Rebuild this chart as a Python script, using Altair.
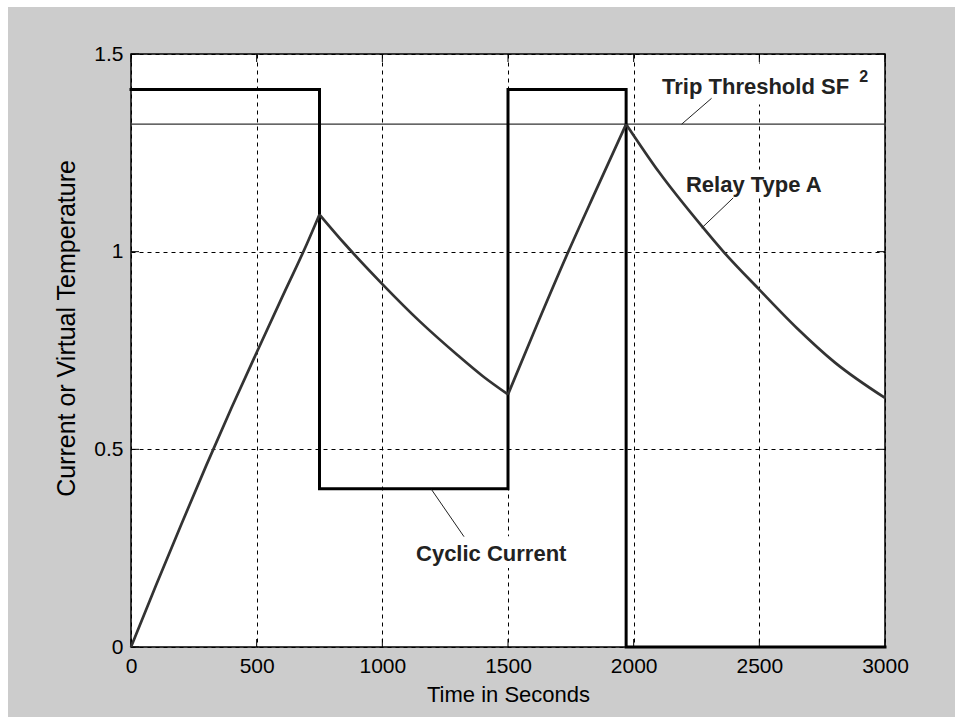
import altair as alt
import pandas as pd

# ---- data ----
x_ticks = [0, 500, 1000, 1500, 2000, 2500, 3000]
y_ticks = [0, 0.5, 1, 1.5]

cyc_t = [0, 750, 750, 1500, 1500, 1970, 1970, 3000]
cyc_v = [1.41, 1.41, 0.40, 0.40, 1.41, 1.41, 0.0, 0.0]

# relay virtual temperature, one list per heating / cooling phase
heat1_t = [0, 100, 200, 300, 400, 500, 600, 700, 750]
heat1_v = [0, 0.157, 0.31, 0.46, 0.605, 0.745, 0.883, 1.02, 1.094]
cool1_t = [750, 850, 1000, 1150, 1300, 1400, 1500]
cool1_v = [1.094, 1.02, 0.918, 0.823, 0.738, 0.685, 0.639]
heat2_t = [1500, 1600, 1740, 1850, 1970]
heat2_v = [0.639, 0.792, 1.0, 1.155, 1.3225]
cool2_t = [1970, 2100, 2277, 2357, 2500, 2649, 2800, 3000]
cool2_v = [1.3225, 1.202, 1.06, 1.0, 0.904, 0.807, 0.72, 0.630]

threshold = [1.3225]

# annotations: label, text anchor (t, v)
ann_text = ["Trip Threshold SF", "Relay Type A", "Cyclic Current"]
ann_t = [2113, 2208, 1134]
ann_v = [1.398, 1.151, 0.217]
sup_t, sup_v = [2898], [1.430]
# white boxes behind annotation text
box_t = [2100, 2184, 1110]
box_t2 = [2960, 2805, 1767]
box_v = [1.372, 1.137, 0.20]
box_v2 = [1.476, 1.208, 0.28]
# leader lines
lead_t = [2310, 2396, 1196]
lead_v = [1.388, 1.136, 0.398]
lead_t2 = [2191, 2271, 1325]
lead_v2 = [1.3225, 1.060, 0.279]

FONT = "Liberation Sans"
W, H = 754, 593
PL, PT = 131, 54
TICK = 8

cyc = pd.DataFrame({"t": cyc_t, "v": cyc_v, "i": range(len(cyc_t))})
parts = []
for k, (tt, vv) in enumerate([(heat1_t, heat1_v), (cool1_t, cool1_v),
                              (heat2_t, heat2_v), (cool2_t, cool2_v)]):
    parts.append(pd.DataFrame({"t": tt, "v": vv, "seg": k}))
rel = pd.concat(parts, ignore_index=True)
thr = pd.DataFrame({"v": threshold})
ann = pd.DataFrame({"label": ann_text, "t": ann_t, "v": ann_v})
box = pd.DataFrame({"t": box_t, "t2": box_t2, "v": box_v, "v2": box_v2})
lead = pd.DataFrame({"t": lead_t, "v": lead_v, "t2": lead_t2, "v2": lead_v2})
sup = pd.DataFrame({"label": ["2"], "t": sup_t, "v": sup_v})
xt = pd.DataFrame({"t": x_ticks})
yt = pd.DataFrame({"v": y_ticks})

xs = alt.Scale(domain=[0, 3000], nice=False, zero=False)
ys = alt.Scale(domain=[0, 1.5], nice=False, zero=False)

X = alt.X("t:Q", scale=xs,
          axis=alt.Axis(values=x_ticks, format="d", title="Time in Seconds",
                        titlePadding=8, labelFlush=False))
Y = alt.Y("v:Q", scale=ys,
          axis=alt.Axis(values=y_ticks, format=".1~f", labelFlush=False,
                        title="Current or Virtual Temperature",
                        titleX=-52, titleY=274, titleFontSize=25))

# white strip along top and left edge of the picture
top_strip = alt.Chart(pd.DataFrame({"k": [0]})).mark_rect(color="white").encode(
    x=alt.value(-PL), x2=alt.value(955 - PL), y=alt.value(-PT), y2=alt.value(7 - PT))
left_strip = alt.Chart(pd.DataFrame({"k": [0]})).mark_rect(color="white").encode(
    x=alt.value(-PL), x2=alt.value(8 - PL), y=alt.value(-PT), y2=alt.value(717 - PT))

boxes = alt.Chart(box).mark_rect(color="white").encode(
    x=X, x2="t2:Q", y=Y, y2="v2:Q")

# inward tick marks on all four sides
tick_bot = alt.Chart(xt).mark_rule(color="black", strokeWidth=1).encode(
    x=X, y=alt.value(H), y2=alt.value(H - TICK))
tick_top = alt.Chart(xt).mark_rule(color="black", strokeWidth=1).encode(
    x=X, y=alt.value(0), y2=alt.value(TICK))
tick_left = alt.Chart(yt).mark_rule(color="black", strokeWidth=1).encode(
    y=Y, x=alt.value(0), x2=alt.value(TICK))
tick_right = alt.Chart(yt).mark_rule(color="black", strokeWidth=1).encode(
    y=Y, x=alt.value(W - TICK), x2=alt.value(W))

thr_line = alt.Chart(thr).mark_rule(color="#333333", strokeWidth=1.3).encode(y=Y)

cyc_line = alt.Chart(cyc).mark_line(color="black", strokeWidth=3,
                                    strokeJoin="miter", strokeCap="square").encode(
    x=X, y=Y, order="i:Q")

rel_line = alt.Chart(rel).mark_line(color="#333333", strokeWidth=2.7,
                                    interpolate="monotone").encode(
    x=X, y=Y, detail="seg:N", order="t:Q")

leaders = alt.Chart(lead).mark_rule(color="#222222", strokeWidth=1).encode(
    x=X, y=Y, x2="t2:Q", y2="v2:Q")

texts = alt.Chart(ann).mark_text(font=FONT, fontSize=22, fontWeight="bold",
                                 align="left", baseline="alphabetic",
                                 color="#222222").encode(
    x=X, y=Y, text="label:N")

sup_text = alt.Chart(sup).mark_text(font=FONT, fontSize=16, fontWeight="bold",
                                    align="left", baseline="alphabetic",
                                    color="#222222").encode(
    x=X, y=Y, text="label:N")

chart = alt.layer(
    top_strip, left_strip, boxes, tick_bot, tick_top, tick_left, tick_right,
    thr_line, cyc_line, rel_line, leaders, texts, sup_text
).properties(
    width=W, height=H,
    autosize=alt.AutoSizeParams(type="none"),
    padding={"left": PL, "top": PT, "right": 955 - PL - W, "bottom": 717 - PT - H},
    background="#cccccc",
).configure_view(
    fill="white", stroke="black", strokeWidth=1.5
).configure_axis(
    grid=True, gridColor="black", gridDash=[4, 4], gridWidth=1, gridOpacity=1,
    domain=False, ticks=False, tickSize=0,
    labelFont=FONT, labelFontSize=21, labelColor="black", labelPadding=8,
    titleFont=FONT, titleFontSize=22, titleFontWeight="normal", titleColor="black",
)

chart.save("out.html", embed_options={"renderer": "svg", "actions": False})
